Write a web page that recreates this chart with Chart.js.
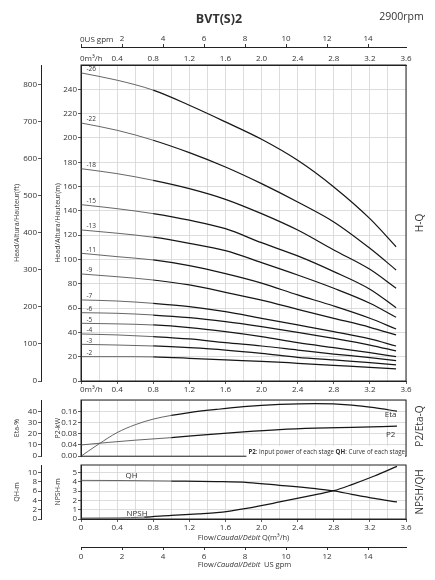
<!DOCTYPE html>
<html>
<head>
<meta charset="utf-8">
<script src="https://cdn.jsdelivr.net/npm/chart.js@4.4.0/dist/chart.umd.min.js"></script>
<style>
  body { margin: 0; background: #fff; width: 435px; height: 580px; position: relative; overflow: hidden; }
  canvas { position: absolute; left: 0; }
</style>
</head>
<body>
<canvas id="hq" width="435" height="400" style="top:0px"></canvas>
<canvas id="pe" width="435" height="70" style="top:392px"></canvas>
<canvas id="nq" width="435" height="122" style="top:458px"></canvas>
<script>
const FONT = "'Open Sans', sans-serif";
const FLOW_MAX = 3.6;          // m³/h
const GPM_PER_M3H = 4.4029;
const HEAD_MAX = 260;          // m

// H-Q curves, head in m at each flow point, one list per stage count
const hqFlow = [0, 0.4, 0.8, 1.2, 1.6, 2.0, 2.4, 2.8, 3.2, 3.49];
const stageCounts = [26, 22, 18, 15, 13, 11, 9, 7, 6, 5, 4, 3, 2];
const head26 = [253.5, 247.5, 239.3, 226.9, 213.2, 198.9, 181.6, 159.7, 133.6, 110.5];
const head22 = [212.3, 206.3, 198.1, 187.9, 176.1, 162.4, 147.3, 130.9, 109.2, 91.4];
const head18 = [174.7, 170.6, 165.1, 158.3, 149.5, 137.7, 124.2, 107.8, 91.9, 76.3];
const head15 = [145.1, 141.8, 137.7, 132.3, 125.3, 113.8, 102.9, 90.0, 75.5, 60.3];
const head13 = [124.3, 121.6, 118.3, 113.3, 107.2, 97.4, 87.2, 76.3, 64.0, 52.4];
const head11 = [105.1, 102.3, 99.6, 94.9, 88.3, 80.5, 70.8, 61.7, 51.6, 42.8];
const head9  = [88.1, 85.8, 83.1, 79.0, 73.0, 66.5, 59.0, 51.6, 44.2, 37.9];
const head7  = [66.7, 65.8, 63.9, 61.2, 57.0, 51.5, 46.1, 40.6, 34.6, 28.8];
const head6  = [56.2, 55.7, 54.3, 52.1, 48.8, 44.7, 40.1, 35.1, 29.6, 24.7];
const head5  = [47.5, 47.0, 46.1, 43.9, 40.6, 36.5, 31.5, 27.4, 23.3, 20.0];
const head4  = [38.7, 37.9, 36.5, 34.6, 31.5, 28.8, 25.5, 22.2, 19.2, 16.7];
const head3  = [30.2, 29.6, 28.8, 27.4, 25.5, 22.8, 19.5, 17.3, 15.1, 13.2];
const head2  = [20.0, 20.0, 19.8, 18.7, 17.3, 16.2, 14.6, 12.9, 11.3, 9.9];
const headSeries = [head26, head22, head18, head15, head13, head11, head9, head7, head6, head5, head4, head3, head2];

// efficiency and input power per stage
const etaFlow = [0, 0.2, 0.4, 0.6, 0.8, 1.0, 1.2, 1.5, 1.8, 2.2, 2.6, 3.0, 3.25, 3.5];
const etaPct  = [0, 11, 21, 28, 33, 36.3, 38.8, 41.6, 44, 46, 46.8, 45.5, 43.2, 40];
const p2Flow  = [0, 0.3, 0.6, 1.0, 1.4, 1.8, 2.2, 2.6, 3.0, 3.5];
const p2kW    = [0.040, 0.049, 0.057, 0.066, 0.077, 0.087, 0.095, 0.100, 0.103, 0.107];

// head per stage and NPSH
const qhFlow   = [0, 0.5, 1.0, 1.5, 1.85, 2.2, 2.6, 2.8, 3.0, 3.25, 3.5];
const qhM      = [8.3, 8.26, 8.16, 8.04, 7.84, 7.24, 6.5, 6.04, 5.3, 4.42, 3.66];
const npshFlow = [0, 0.4, 0.7, 1.0, 1.3, 1.5, 1.85, 2.2, 2.6, 2.8, 3.0, 3.25, 3.5];
const npshM    = [0.1, 0.12, 0.2, 0.4, 0.55, 0.68, 1.18, 1.83, 2.62, 3.04, 3.7, 4.62, 5.65];

const GRID = '#d4d4d4';
const INK = '#333';
const NONE = 'rgba(0,0,0,0)';
const tickFont = { family: FONT, size: 8 };

function onStep(v, step) {
  const r = v / step;
  return Math.abs(r - Math.round(r)) < 1e-6;
}
function pts(xs, ys) {
  return ys.map((y, i) => ({ x: xs[i], y: y }));
}
function curve(label, data, yAxisID, light) {
  return {
    label, data, yAxisID, xAxisID: 'x',
    borderColor: '#1a1a1a', borderWidth: 1.2, pointRadius: 0, fill: false,
    cubicInterpolationMode: 'monotone',
    segment: {
      borderColor: c => c.p0.parsed.x < light ? '#555' : '#161616',
      borderWidth: c => c.p0.parsed.x < light ? 0.9 : 1.25
    }
  };
}

function text(ctx, s, x, y, size, o = {}) {
  ctx.save();
  ctx.font = (o.weight || 'normal') + ' ' + size + 'px ' + FONT;
  ctx.fillStyle = o.color || INK;
  ctx.textAlign = o.align || 'center';
  ctx.textBaseline = 'middle';
  ctx.translate(x, y);
  if (o.rot) ctx.rotate(o.rot);
  ctx.fillText(s, 0, 0);
  ctx.restore();
}
// parts: [text, font prefix]
function rich(ctx, parts, x, y, size, align, bg) {
  ctx.save();
  ctx.textBaseline = 'middle';
  ctx.textAlign = 'left';
  const fonts = parts.map(p => (p[1] || '') + ' ' + size + 'px ' + FONT);
  let w = 0;
  const ws = parts.map((p, i) => { ctx.font = fonts[i]; const m = ctx.measureText(p[0]).width; w += m; return m; });
  let cx = align === 'right' ? x - w : x - w / 2;
  if (bg) {
    ctx.fillStyle = bg;
    ctx.fillRect(cx - 2, y - size, w + 2, size * 2);
  }
  ctx.fillStyle = INK;
  parts.forEach((p, i) => { ctx.font = fonts[i]; ctx.fillText(p[0], cx, y); cx += ws[i]; });
  ctx.restore();
}
function frame(chart) {
  const a = chart.chartArea, ctx = chart.ctx;
  ctx.save();
  ctx.strokeStyle = '#222';
  ctx.lineWidth = 1;
  ctx.strokeRect(a.left, a.top, a.right - a.left, a.bottom - a.top);
  ctx.restore();
}

// flow axis in m³/h, grid every 0.2, labels every 0.4
function flowAxis(position, height, opts) {
  return {
    type: 'linear', position, min: 0, max: FLOW_MAX, weight: 0,
    afterFit: s => { s.height = height; },
    ticks: {
      display: opts.labels, stepSize: 0.2, autoSkip: false, maxRotation: 0, includeBounds: false,
      font: tickFont, color: INK, padding: opts.padding,
      callback: v => (onStep(v, 0.4) && (v > 0 || opts.zero)) ? (v === 0 ? '0' : v.toFixed(1)) : ''
    },
    grid: {
      drawOnChartArea: opts.grid, color: GRID, lineWidth: 0.8,
      drawTicks: opts.ticks, tickLength: 3,
      tickColor: c => onStep(c.tick.value, 0.4) ? INK : NONE
    },
    border: { display: opts.border, color: '#222' }
  };
}
function gpmAxis(position, height, padding, zero) {
  return {
    type: 'linear', position, min: 0, max: FLOW_MAX * GPM_PER_M3H, weight: 1,
    afterFit: s => { s.height = height; },
    ticks: {
      stepSize: 2, autoSkip: false, maxRotation: 0, includeBounds: false,
      font: tickFont, color: INK, padding,
      callback: v => (onStep(v, 2) && (v > 0 || zero)) ? String(Math.round(v)) : ''
    },
    grid: { drawOnChartArea: false, tickLength: 3, tickColor: c => onStep(c.tick.value, 2) ? INK : NONE },
    border: { color: '#222' }
  };
}
function leftAxis(weight, width, min, max, step, fmt, gridOn, title) {
  return {
    type: 'linear', position: 'left', min, max, weight,
    afterFit: s => { s.width = width; },
    ticks: {
      stepSize: step, autoSkip: false, includeBounds: false, font: tickFont, color: INK, padding: 1,
      callback: v => (onStep(v, step) && v < max - 1e-9) ? fmt(v) : ''
    },
    grid: {
      drawOnChartArea: gridOn, color: GRID, lineWidth: 0.8, tickLength: 3,
      tickColor: c => (onStep(c.tick.value, step) && c.tick.value < max - 1e-9) ? INK : NONE
    },
    border: { color: '#222' },
    title: { display: true, text: title, color: INK, font: { family: FONT, size: 7 }, padding: { top: 13, bottom: 0 } }
  };
}
const common = {
  responsive: false, maintainAspectRatio: false, animation: false,
  plugins: { legend: { display: false }, tooltip: { enabled: false } }
};

// ---- H-Q panel
new Chart(document.getElementById('hq'), {
  type: 'line',
  data: { datasets: headSeries.map((h, i) => curve(stageCounts[i] + ' stages', pts(hqFlow, h), 'm', 0.8)) },
  options: Object.assign({}, common, {
    layout: { padding: { top: 30, right: 29, bottom: 0, left: 0 }, autoPadding: false },
    scales: {
      x: flowAxis('bottom', 19, { labels: true, padding: 1.2, grid: true, ticks: true, border: true, zero: false }),
      xt: flowAxis('top', 18, { labels: true, padding: 1, grid: false, ticks: false, border: true, zero: false }),
      gpm: gpmAxis('top', 17, 0, false),
      m: leftAxis(0, 40, 0, HEAD_MAX, 20, v => String(v), true, 'Head/Altura/Hauteur(m)'),
      ft: leftAxis(1, 41, 0, HEAD_MAX / 0.3048, 100, v => String(v), false, 'Head/Altura/Hauteur(ft)')
    }
  }),
  plugins: [{
    id: 'hqText',
    afterDraw(chart) {
      const ctx = chart.ctx, s = chart.scales;
      frame(chart);
      text(ctx, 'BVT(S)2', 219, 19, 12.5, { weight: 'bold' });
      text(ctx, '2900rpm', 401.5, 17, 10.5);
      text(ctx, '0US gpm', s.gpm.getPixelForValue(0) - 1, s.gpm.bottom - 7.5, 8, { align: 'left' });
      text(ctx, '0m³/h', s.xt.getPixelForValue(0) - 1, s.xt.bottom - 5.8, 8, { align: 'left' });
      text(ctx, '0m³/h', s.x.getPixelForValue(0) - 1, s.x.top + 9, 8, { align: 'left' });
      headSeries.forEach((h, i) => {
        text(ctx, '-' + stageCounts[i], s.x.getPixelForValue(0.06), s.m.getPixelForValue(h[0]) - 3.5, 6.5, { align: 'left' });
      });
      text(ctx, 'H-Q', 420, (chart.chartArea.top + chart.chartArea.bottom) / 2, 10, { rot: -Math.PI / 2 });
    }
  }]
});

// ---- P2 / Eta panel
new Chart(document.getElementById('pe'), {
  type: 'line',
  data: {
    datasets: [
      curve('Eta', pts(etaFlow, etaPct), 'eta', 1.0),
      curve('P2', pts(p2Flow, p2kW), 'p2', 1.0)
    ]
  },
  options: Object.assign({}, common, {
    layout: { padding: { top: 8, right: 29, bottom: 4, left: 0 }, autoPadding: false },
    scales: {
      x: flowAxis('bottom', 0, { labels: false, padding: 0, grid: true, ticks: false, border: false, zero: true }),
      p2: leftAxis(0, 40, 0, 0.2, 0.04, v => v.toFixed(2), true, 'P2-kW'),
      eta: leftAxis(1, 41, 0, 50, 10, v => String(v), false, 'Eta-%')
    }
  }),
  plugins: [{
    id: 'peText',
    afterDraw(chart) {
      const ctx = chart.ctx, s = chart.scales, a = chart.chartArea;
      frame(chart);
      text(ctx, 'Eta', s.x.getPixelForValue(3.43), s.eta.getPixelForValue(37), 8);
      text(ctx, 'P2', s.x.getPixelForValue(3.43), s.p2.getPixelForValue(0.077), 8);
      rich(ctx, [['P2', 'bold'], [': Input power of each stage ', ''], ['QH', 'bold'], [': Curve of each stage', '']],
        a.right - 1, a.bottom - 4, 6.2, 'right', '#fff');
      text(ctx, 'P2/Eta-Q', 420, (a.top + a.bottom) / 2 - 2, 10, { rot: -Math.PI / 2 });
    }
  }]
});

// ---- NPSH / QH panel
new Chart(document.getElementById('nq'), {
  type: 'line',
  data: {
    datasets: [
      curve('QH', pts(qhFlow, qhM), 'qh', 0.7),
      curve('NPSH', pts(npshFlow, npshM), 'npsh', 0.45)
    ]
  },
  options: Object.assign({}, common, {
    layout: { padding: { top: 7, right: 29, bottom: 0, left: 0 }, autoPadding: false },
    scales: {
      x: flowAxis('bottom', 28, { labels: true, padding: 1.2, grid: true, ticks: true, border: true, zero: true }),
      gpm: gpmAxis('bottom', 33, 2, true),
      npsh: leftAxis(0, 40, 0, 5.8, 1, v => String(v), true, 'NPSH-m'),
      qh: leftAxis(1, 41, 0, 11.6, 2, v => String(v), false, 'QH-m')
    }
  }),
  plugins: [{
    id: 'nqText',
    afterDraw(chart) {
      const ctx = chart.ctx, s = chart.scales, a = chart.chartArea;
      frame(chart);
      text(ctx, 'QH', s.x.getPixelForValue(0.56), s.qh.getPixelForValue(9.3), 8);
      text(ctx, 'NPSH', s.x.getPixelForValue(0.62), s.npsh.getPixelForValue(0.55), 8);
      const mid = (a.left + a.right) / 2;
      rich(ctx, [['Flow/', ''], ['Caudal/Débit', 'italic'], [' Q(m³/h)', '']], mid, s.x.top + 19, 7.5, 'center');
      rich(ctx, [['Flow/', ''], ['Caudal/Débit', 'italic'], ['  US gpm', '']], mid + 1, s.gpm.top + 18, 7.5, 'center');
      text(ctx, 'NPSH/QH', 420, (a.top + a.bottom) / 2, 10, { rot: -Math.PI / 2 });
    }
  }]
});
</script>
</body>
</html>
